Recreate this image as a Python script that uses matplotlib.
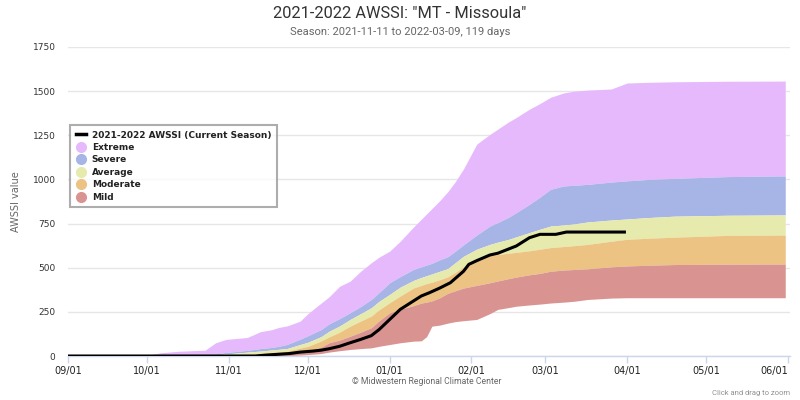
import matplotlib
matplotlib.use("Agg")
import matplotlib.pyplot as plt
import matplotlib.transforms as mtransforms
from matplotlib.lines import Line2D
import numpy as np

# ---------------- data (days since 2021-09-01) ----------------
band_days = [0, 30, 35, 42, 52, 56, 60, 68, 73, 77, 80, 83, 88, 91, 96, 99, 103, 107, 111, 115,
             118, 122, 126, 131, 134, 136, 138, 141, 144, 147, 150, 155, 160, 163, 167, 170, 175, 179, 183, 188,
             192, 197, 206, 212, 220, 230, 250, 272]
extreme_top = [0, 3, 18, 27, 33, 75, 94, 105, 138, 148, 162, 170, 197, 240, 300, 335, 395, 424, 480, 528,
               560, 594, 650, 730, 775, 805, 835, 880, 930, 990, 1060, 1200, 1255, 1285, 1325, 1351, 1398, 1430, 1465, 1490,
               1500, 1506, 1512, 1546, 1550, 1553, 1556, 1557]
severe_top = [0, 0, 1, 3, 8, 12, 20, 32, 42, 48, 55, 65, 95, 115, 150, 182, 212, 245, 280, 320,
              360, 415, 450, 490, 505, 515, 525, 545, 562, 595, 630, 685, 736, 756, 785, 812, 859, 900, 944, 963,
              967, 972, 985, 992, 1000, 1006, 1016, 1020]
average_top = [0, 0, 0, 1, 4, 7, 12, 22, 28, 34, 38, 42, 65, 78, 110, 140, 170, 207, 240, 273,
               310, 349, 390, 428, 445, 455, 465, 480, 495, 530, 565, 605, 632, 645, 660, 675, 699, 718, 736, 742,
               748, 759, 770, 776, 784, 792, 797, 799]
moderate_top = [0, 0, 0, 0, 1, 2, 4, 10, 15, 20, 24, 27, 45, 55, 85, 108, 135, 169, 198, 226,
                262, 302, 340, 385, 400, 410, 418, 432, 448, 475, 505, 545, 570, 575, 582, 587, 596, 605, 614, 620,
                625, 632, 650, 661, 667, 673, 683, 685]
mild_top = [0, 0, 0, 0, 0, 0, 0, 1, 3, 6, 10, 14, 22, 30, 50, 75, 90, 112, 135, 160,
            200, 245, 265, 285, 300, 305, 312, 330, 355, 370, 385, 400, 415, 425, 438, 447, 460, 468, 480, 487,
            490, 494, 505, 510, 514, 518, 520, 521]
mild_bottom = [0, 0, 0, 0, 0, 0, 0, 0, 0, 0, 0, 2, 5, 8, 14, 22, 30, 37, 42, 46,
               55, 65, 75, 84, 86, 110, 169, 175, 186, 195, 200, 207, 240, 264, 274, 282, 289, 294, 300, 305,
               310, 320, 328, 330, 330, 330, 330, 330]

current_days = [0, 71, 75, 80, 84, 88, 93, 96, 99, 103, 107, 111, 115, 118, 122, 126, 130, 134, 137, 141,
                145, 150, 152, 155, 160, 163, 170, 175, 179, 185, 189, 211]
current_vals = [0, 0, 5, 10, 14, 22, 28, 33, 41, 55, 75, 94, 115, 150, 207, 264, 302, 340, 358, 385,
                415, 480, 519, 540, 572, 582, 623, 670, 689, 689, 702, 702]

tick_days = [0, 30, 61, 91, 122, 153, 181, 212, 242, 273]
tick_labels = ["09/01", "10/01", "11/01", "12/01", "01/01", "02/01", "03/01", "04/01", "05/01", "06/01"]

band_names = ["Extreme", "Severe", "Average", "Moderate", "Mild"]
band_colors = ["#e6b9fc", "#a7b4e6", "#e6eaad", "#edc383", "#d99492"]

# ---------------- figure ----------------
plt.rcParams['font.family'] = ['DejaVu Sans']
fig = plt.figure(figsize=(8, 4), dpi=100)
ax = fig.add_axes([68 / 800, 44 / 400, 722 / 800, 309 / 400])

x = np.array(band_days)
ax.fill_between(x, severe_top, extreme_top, color=band_colors[0], lw=0, zorder=2)
ax.fill_between(x, average_top, severe_top, color=band_colors[1], lw=0, zorder=2)
ax.fill_between(x, moderate_top, average_top, color=band_colors[2], lw=0, zorder=2)
ax.fill_between(x, mild_top, moderate_top, color=band_colors[3], lw=0, zorder=2)
ax.fill_between(x, mild_bottom, mild_top, color=band_colors[4], lw=0, zorder=2)

ax.plot(current_days, current_vals, color="black", lw=2.2, zorder=4, solid_joinstyle="round")

ax.set_xlim(0, 273.8)
ax.set_ylim(0, 1750)
ax.set_yticks(np.arange(0, 1751, 250))
ax.yaxis.grid(True, color="#e6e6e6", lw=1, zorder=0)
ax.set_axisbelow(True)
ax.set_xticks(tick_days)
ax.set_xticklabels(tick_labels, fontsize=7, color="#222222")
last = ax.get_xticklabels()[-1]
last.set_ha("right")
last.set_transform(last.get_transform() + mtransforms.ScaledTranslation(4 / 100, 0, fig.dpi_scale_trans))
ax.tick_params(axis="x", length=5, color="#ccd6eb", width=1, pad=2)
ax.tick_params(axis="y", length=0, labelsize=6.5, labelcolor="#333333", pad=9)
for s in ["top", "right", "left"]:
    ax.spines[s].set_visible(False)
ax.spines["bottom"].set_color("#ccd6eb")
ax.spines["bottom"].set_linewidth(1)
ax.set_ylabel("AWSSI value", fontsize=7, color="#666666", labelpad=8)

fig.text(0.5, 0.965, '2021-2022 AWSSI: "MT - Missoula"', ha="center", va="center",
         fontsize=11.8, color="#333333", family="Roboto")
fig.text(0.5, 0.92, "Season: 2021-11-11 to 2022-03-09, 119 days", ha="center", va="center",
         fontsize=8, color="#666666", family="Roboto")
fig.text(0.534, 0.045, "© Midwestern Regional Climate Center", ha="center", va="center",
         fontsize=6.2, color="#666666", family="Roboto")
fig.text(0.9875, 0.0175, "Click and drag to zoom", ha="right", va="center",
         fontsize=5.5, color="#909090", family="Roboto")

handles = [Line2D([], [], color="black", lw=2.5)]
for c in band_colors:
    handles.append(Line2D([], [], marker="o", linestyle="none", markersize=7,
                          markerfacecolor=c, markeredgecolor=c))
labels = ["2021-2022 AWSSI (Current Season)"] + band_names
leg = ax.legend(handles, labels, loc="upper left", bbox_to_anchor=(0.003, 0.747),
                prop={"size": 6.5, "weight": "bold"}, frameon=True, fancybox=False,
                handlelength=1.1, handletextpad=0.7, labelspacing=0.38, borderpad=0.6,
                borderaxespad=0)
leg.get_frame().set_edgecolor("#999999")
leg.get_frame().set_linewidth(1.5)
for t in leg.get_texts():
    t.set_color("#222222")
leg.set_zorder(5)

fig.savefig("out.png", dpi=100)
